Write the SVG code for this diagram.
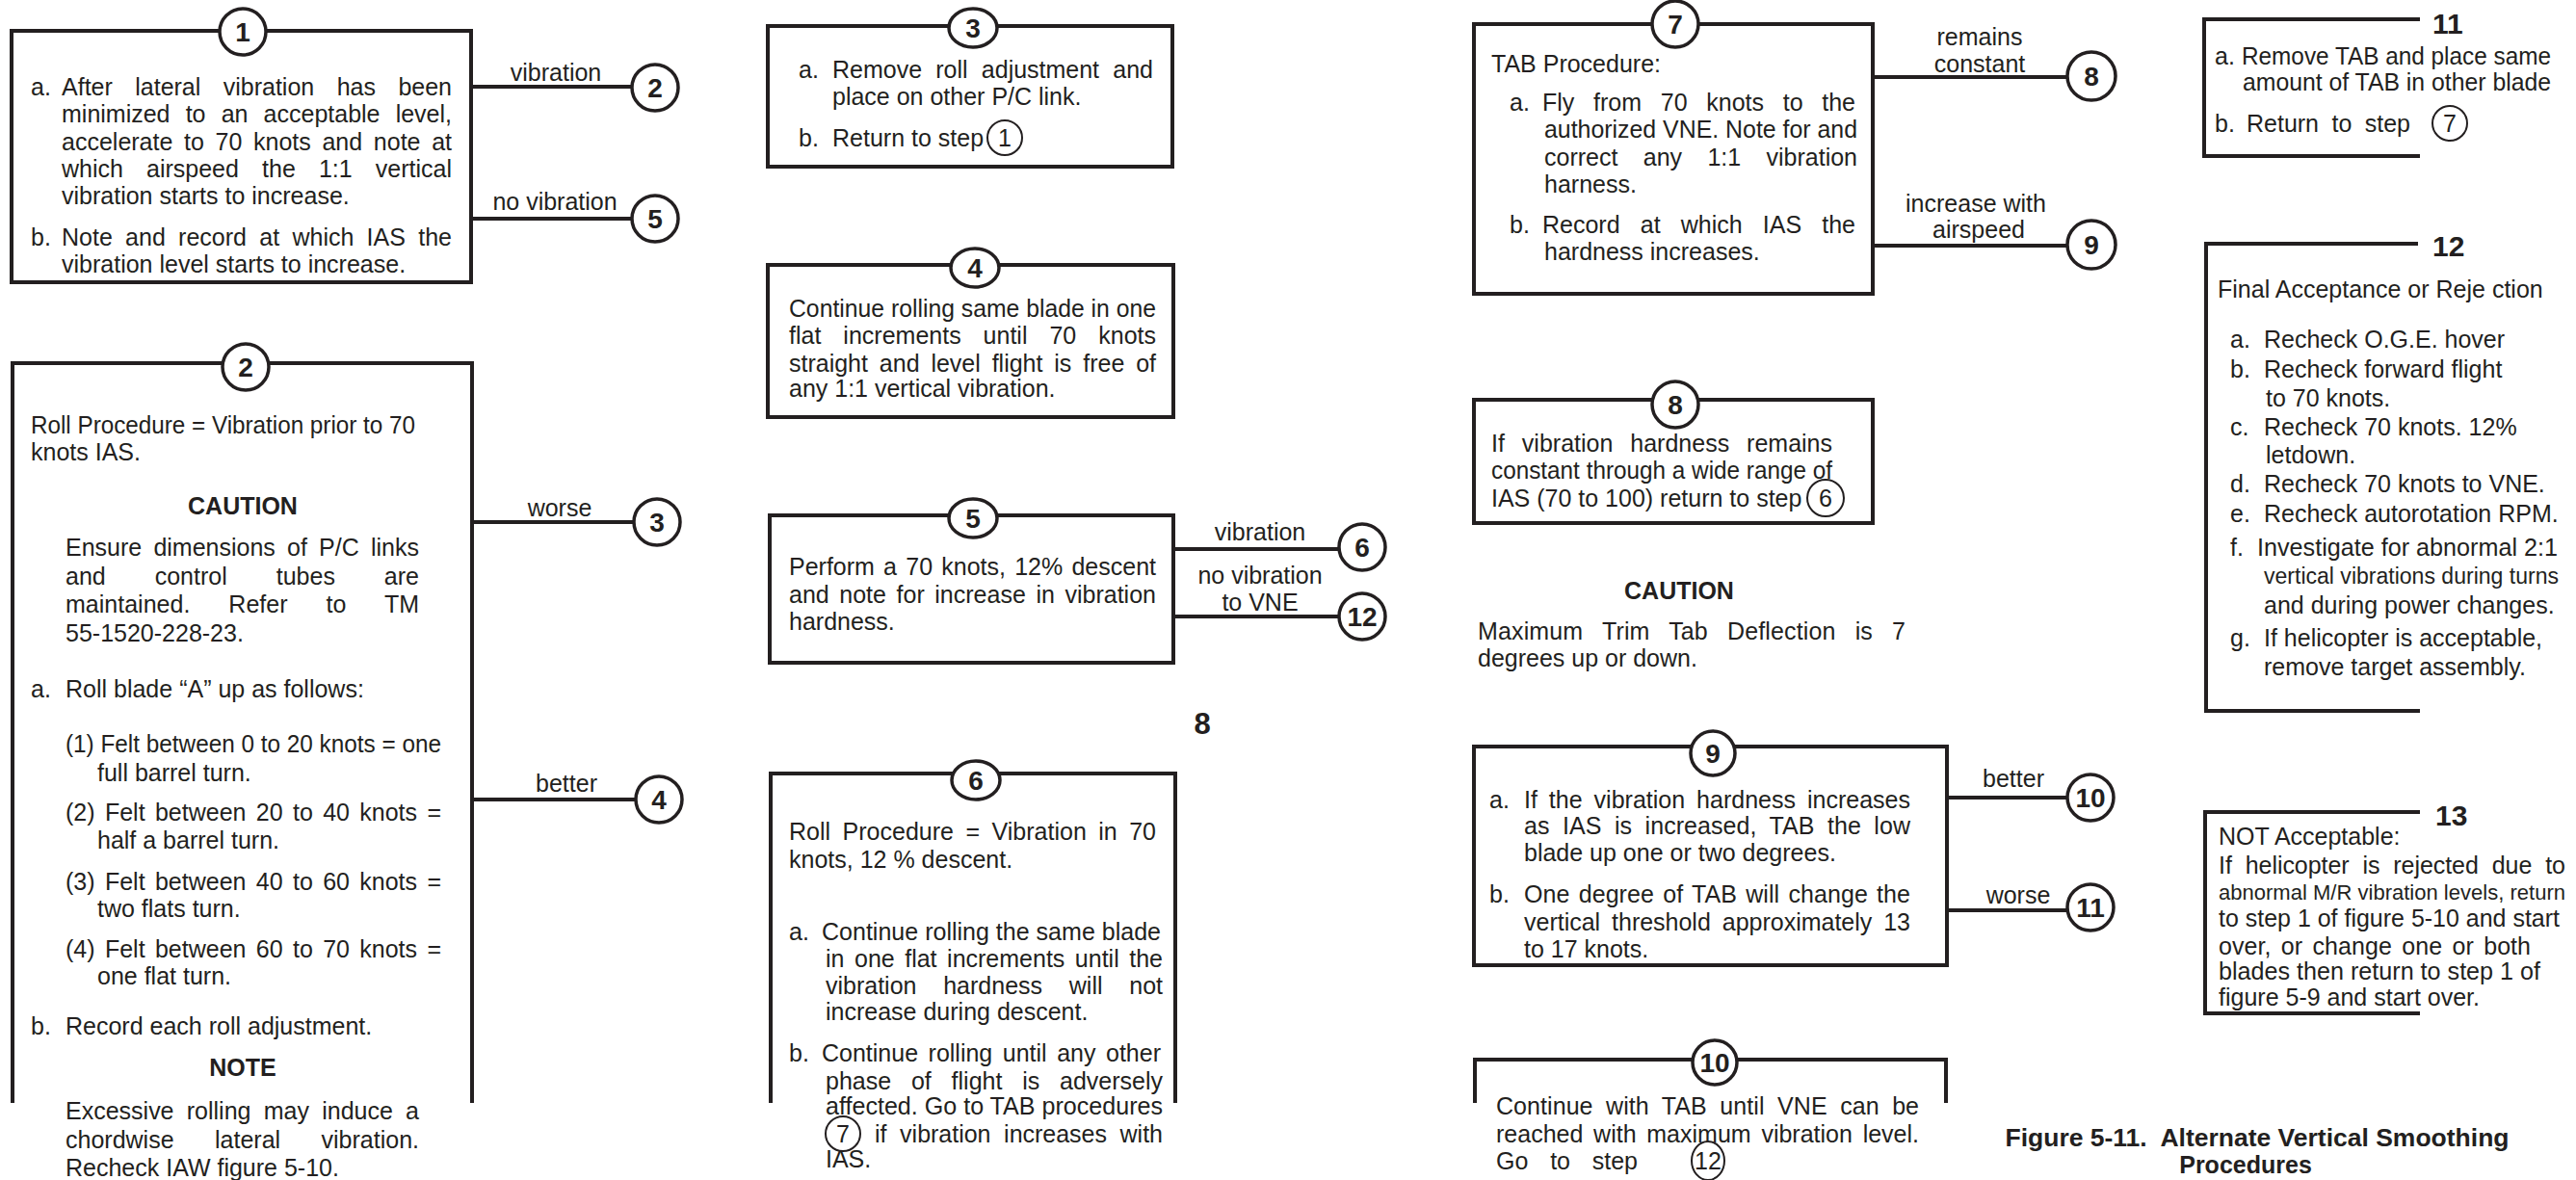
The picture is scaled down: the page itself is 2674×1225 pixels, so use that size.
<svg xmlns="http://www.w3.org/2000/svg" width="2674" height="1225" viewBox="0 0 2674 1225">
<style>
text{font-family:"Liberation Sans",Arial,Helvetica,sans-serif;font-size:25px;fill:#231f20}
.b{font-weight:bold}
.m{text-anchor:middle}
.num{font-weight:bold;font-size:28px;text-anchor:middle}
.big{font-weight:bold;font-size:30px}
.nar{font-size:22px}
.nar2{font-size:23px}
.box{fill:none;stroke:#231f20;stroke-width:4}
.node{fill:#fff;stroke:#231f20;stroke-width:3.5}
.ref{fill:none;stroke:#231f20;stroke-width:2}
.conn{fill:none;stroke:#231f20;stroke-width:4}
</style>
<rect width="2674" height="1225" fill="#fff"/>

<g id="connectors">
<path class="conn" d="M489 90H656M489 227H656M490 542H657M490 830H659M1218 570H1390M1218 640H1390M1944 80H2146M1944 255H2146M2021 828H2146M2021 945H2146"/>
<text class="m" x="577" y="84">vibration</text>
<text class="m" x="576" y="218">no vibration</text>
<text class="m" x="581" y="536">worse</text>
<text class="m" x="588" y="822">better</text>
<text class="m" x="1308" y="561">vibration</text>
<text class="m" x="1308" y="606">no vibration</text>
<text class="m" x="1308" y="634">to VNE</text>
<text class="m" x="2055" y="47">remains</text>
<text class="m" x="2055" y="75">constant</text>
<text class="m" x="2051" y="220">increase with</text>
<text class="m" x="2054" y="247">airspeed</text>
<text class="m" x="2090" y="817">better</text>
<text class="m" x="2095" y="938">worse</text>
<circle class="node" cx="680" cy="91" r="24"/><text class="num" x="680" y="101">2</text>
<circle class="node" cx="680" cy="227" r="24"/><text class="num" x="680" y="237">5</text>
<circle class="node" cx="682" cy="542" r="24"/><text class="num" x="682" y="552">3</text>
<circle class="node" cx="684" cy="830" r="24"/><text class="num" x="684" y="840">4</text>
<circle class="node" cx="1414" cy="568" r="24"/><text class="num" x="1414" y="578">6</text>
<circle class="node" cx="1414" cy="640" r="24"/><text class="num" x="1414" y="650">12</text>
<circle class="node" cx="2171" cy="79" r="25"/><text class="num" x="2171" y="89">8</text>
<circle class="node" cx="2171" cy="254" r="25"/><text class="num" x="2171" y="264">9</text>
<circle class="node" cx="2170" cy="828" r="24"/><text class="num" x="2170" y="838">10</text>
<circle class="node" cx="2170" cy="942" r="24"/><text class="num" x="2170" y="952">11</text>
</g>

<g id="node1">
<rect class="box" x="12" y="32" width="477" height="261"/>
<circle class="node" cx="252" cy="33" r="24"/><text class="num" x="252" y="43">1</text>
<text x="32" y="99">a.</text>
<text x="64" y="99" style="word-spacing:16.5px" textLength="405" lengthAdjust="spacing">After lateral vibration has been</text>
<text x="64" y="127" style="word-spacing:9.2px" textLength="405" lengthAdjust="spacing">minimized to an acceptable level,</text>
<text x="64" y="156" style="word-spacing:4.7px" textLength="405" lengthAdjust="spacing">accelerate to 70 knots and note at</text>
<text x="64" y="184" style="word-spacing:17.2px" textLength="405" lengthAdjust="spacing">which airspeed the 1:1 vertical</text>
<text x="64" y="212">vibration starts to increase.</text>
<text x="32" y="255">b.</text>
<text x="64" y="255" style="word-spacing:6.3px" textLength="405" lengthAdjust="spacing">Note and record at which IAS the</text>
<text x="64" y="283">vibration level starts to increase.</text>
</g>

<g id="node2">
<path class="box" d="M13 1145V377H490V1145"/>
<circle class="node" cx="255" cy="381" r="24"/><text class="num" x="255" y="391">2</text>
<text x="32" y="450" textLength="399" lengthAdjust="spacingAndGlyphs">Roll Procedure = Vibration prior to 70</text>
<text x="32" y="478">knots IAS.</text>
<text class="b m" x="252" y="534">CAUTION</text>
<text x="68" y="577" style="word-spacing:5.3px" textLength="367" lengthAdjust="spacing">Ensure dimensions of P/C links</text>
<text x="68" y="607" style="word-spacing:44px" textLength="367" lengthAdjust="spacing">and control tubes are</text>
<text x="68" y="636" style="word-spacing:33px" textLength="367" lengthAdjust="spacing">maintained. Refer to TM</text>
<text x="68" y="666">55-1520-228-23.</text>
<text x="32" y="724">a.</text>
<text x="68" y="724">Roll blade “A” up as follows:</text>
<text x="68" y="781" textLength="390" lengthAdjust="spacingAndGlyphs">(1) Felt between 0 to 20 knots = one</text>
<text x="101" y="811">full barrel turn.</text>
<text x="68" y="852" style="word-spacing:3.4px" textLength="390" lengthAdjust="spacing">(2) Felt between 20 to 40 knots =</text>
<text x="101" y="881">half a barrel turn.</text>
<text x="68" y="924" style="word-spacing:3.4px" textLength="390" lengthAdjust="spacing">(3) Felt between 40 to 60 knots =</text>
<text x="101" y="952">two flats turn.</text>
<text x="68" y="994" style="word-spacing:3.4px" textLength="390" lengthAdjust="spacing">(4) Felt between 60 to 70 knots =</text>
<text x="101" y="1022">one flat turn.</text>
<text x="32" y="1074">b.</text>
<text x="68" y="1074">Record each roll adjustment.</text>
<text class="b m" x="252" y="1117">NOTE</text>
<text x="68" y="1162" style="word-spacing:6.3px" textLength="367" lengthAdjust="spacing">Excessive rolling may induce a</text>
<text x="68" y="1192" style="word-spacing:35.5px" textLength="367" lengthAdjust="spacing">chordwise lateral vibration.</text>
<text x="68" y="1221">Recheck IAW figure 5-10.</text>
</g>

<g id="node3">
<rect class="box" x="797" y="27" width="420" height="146"/>
<ellipse class="node" cx="1010" cy="29" rx="25" ry="20"/><text class="num" x="1010" y="39">3</text>
<text x="829" y="81">a.</text>
<text x="864" y="81" style="word-spacing:7.3px" textLength="333" lengthAdjust="spacing">Remove roll adjustment and</text>
<text x="864" y="109">place on other P/C link.</text>
<text x="829" y="152">b.</text>
<text x="864" y="152">Return to step</text>
<circle class="ref" cx="1043" cy="143" r="18"/><text class="m" x="1043" y="152">1</text>
</g>

<g id="node4">
<rect class="box" x="797" y="275" width="421" height="158"/>
<ellipse class="node" cx="1012" cy="278" rx="25" ry="20"/><text class="num" x="1012" y="288">4</text>
<text x="819" y="329" textLength="381" lengthAdjust="spacingAndGlyphs">Continue rolling same blade in one</text>
<text x="819" y="357" style="word-spacing:16px" textLength="381" lengthAdjust="spacing">flat increments until 70 knots</text>
<text x="819" y="386" style="word-spacing:4.9px" textLength="381" lengthAdjust="spacing">straight and level flight is free of</text>
<text x="819" y="412">any 1:1 vertical vibration.</text>
</g>

<g id="node5">
<rect class="box" x="799" y="535" width="419" height="153"/>
<ellipse class="node" cx="1010" cy="538" rx="25" ry="20"/><text class="num" x="1010" y="548">5</text>
<text x="819" y="597" style="word-spacing:2.3px" textLength="381" lengthAdjust="spacing">Perform a 70 knots, 12% descent</text>
<text x="819" y="626" style="word-spacing:3.6px" textLength="381" lengthAdjust="spacing">and note for increase in vibration</text>
<text x="819" y="654">hardness.</text>
</g>

<text class="num" x="1248" y="762" style="font-size:31px">8</text>

<g id="node6">
<path class="box" d="M800 1145V803H1220V1145"/>
<ellipse class="node" cx="1013" cy="810" rx="25" ry="20"/><text class="num" x="1013" y="820">6</text>
<text x="819" y="872" style="word-spacing:5.5px" textLength="381" lengthAdjust="spacing">Roll Procedure = Vibration in 70</text>
<text x="819" y="901">knots, 12 % descent.</text>
<text x="819" y="976">a.</text>
<text x="853" y="976" textLength="352" lengthAdjust="spacingAndGlyphs">Continue rolling the same blade</text>
<text x="857" y="1004" style="word-spacing:3.6px" textLength="350" lengthAdjust="spacing">in one flat increments until the</text>
<text x="857" y="1032" style="word-spacing:20.8px" textLength="350" lengthAdjust="spacing">vibration hardness will not</text>
<text x="857" y="1059">increase during descent.</text>
<text x="819" y="1102">b.</text>
<text x="853" y="1102" style="word-spacing:3.6px" textLength="352" lengthAdjust="spacing">Continue rolling until any other</text>
<text x="857" y="1131" style="word-spacing:13.9px" textLength="350" lengthAdjust="spacing">phase of flight is adversely</text>
<text x="857" y="1157" textLength="350" lengthAdjust="spacingAndGlyphs">affected. Go to TAB procedures</text>
<circle class="ref" cx="875" cy="1177" r="18"/><text class="m" x="875" y="1186">7</text>
<text x="908" y="1186" style="word-spacing:6.7px" textLength="299" lengthAdjust="spacing">if vibration increases with</text>
<text x="857" y="1212">IAS.</text>
</g>

<g id="node7">
<rect class="box" x="1530" y="25" width="414" height="280"/>
<circle class="node" cx="1739" cy="25" r="24"/><text class="num" x="1739" y="35">7</text>
<text x="1548" y="75">TAB Procedure:</text>
<text x="1567" y="115">a.</text>
<text x="1601" y="115" style="word-spacing:12.8px" textLength="325" lengthAdjust="spacing">Fly from 70 knots to the</text>
<text x="1603" y="143" textLength="325" lengthAdjust="spacingAndGlyphs">authorized VNE. Note for and</text>
<text x="1603" y="172" style="word-spacing:19.4px" textLength="325" lengthAdjust="spacing">correct any 1:1 vibration</text>
<text x="1603" y="200">harness.</text>
<text x="1567" y="242">b.</text>
<text x="1601" y="242" style="word-spacing:14.2px" textLength="325" lengthAdjust="spacing">Record at which IAS the</text>
<text x="1603" y="270">hardness increases.</text>
</g>

<g id="node8">
<rect class="box" x="1530" y="415" width="414" height="128"/>
<circle class="node" cx="1739" cy="420" r="24"/><text class="num" x="1739" y="430">8</text>
<text x="1548" y="469" style="word-spacing:11px" textLength="354" lengthAdjust="spacing">If vibration hardness remains</text>
<text x="1548" y="497" textLength="354" lengthAdjust="spacingAndGlyphs">constant through a wide range of</text>
<text x="1548" y="526">IAS (70 to 100) return to step</text>
<circle class="ref" cx="1895" cy="517" r="19"/><text class="m" x="1895" y="526">6</text>
</g>

<g id="caution2">
<text class="b m" x="1743" y="622">CAUTION</text>
<text x="1534" y="664" style="word-spacing:13px" textLength="444" lengthAdjust="spacing">Maximum Trim Tab Deflection is 7</text>
<text x="1534" y="692">degrees up or down.</text>
</g>

<g id="node9">
<rect class="box" x="1530" y="775" width="491" height="227"/>
<circle class="node" cx="1778" cy="782" r="23"/><text class="num" x="1778" y="792">9</text>
<text x="1546" y="839">a.</text>
<text x="1582" y="839" style="word-spacing:5px" textLength="401" lengthAdjust="spacing">If the vibration hardness increases</text>
<text x="1582" y="866" style="word-spacing:6.4px" textLength="401" lengthAdjust="spacing">as IAS is increased, TAB the low</text>
<text x="1582" y="894">blade up one or two degrees.</text>
<text x="1546" y="937">b.</text>
<text x="1582" y="937" style="word-spacing:2.2px" textLength="401" lengthAdjust="spacing">One degree of TAB will change the</text>
<text x="1582" y="966" style="word-spacing:5px" textLength="401" lengthAdjust="spacing">vertical threshold approximately 13</text>
<text x="1582" y="994">to 17 knots.</text>
</g>

<g id="node10">
<path class="box" d="M1531 1145V1100H2020V1145"/>
<circle class="node" cx="1780" cy="1103" r="23"/><text class="num" x="1780" y="1113">10</text>
<text x="1553" y="1157" style="word-spacing:6.5px" textLength="439" lengthAdjust="spacing">Continue with TAB until VNE can be</text>
<text x="1553" y="1186" style="word-spacing:3.8px" textLength="439" lengthAdjust="spacing">reached with maximum vibration level.</text>
<text x="1553" y="1214" style="word-spacing:16px" textLength="147" lengthAdjust="spacing">Go to step</text>
<ellipse class="ref" cx="1773" cy="1205" rx="17" ry="20"/><text class="m" x="1773" y="1214">12</text>
</g>

<g id="node11">
<path class="box" d="M2512 20H2288V162H2512"/>
<text class="big" x="2525" y="35">11</text>
<text x="2299" y="67">a.</text>
<text x="2327" y="67" textLength="321" lengthAdjust="spacingAndGlyphs">Remove TAB and place same</text>
<text x="2328" y="94" textLength="320" lengthAdjust="spacingAndGlyphs">amount of TAB in other blade</text>
<text x="2299" y="137">b.</text>
<text x="2332" y="137" style="word-spacing:6.5px" textLength="170" lengthAdjust="spacing">Return to step</text>
<circle class="ref" cx="2543" cy="128" r="18"/><text class="m" x="2543" y="137">7</text>
</g>

<g id="node12">
<path class="box" d="M2510 253H2290V738H2512"/>
<text class="big" x="2525" y="266">12</text>
<text x="2302" y="309" style="white-space:pre">Final Acceptance or Reje ction</text>
<text x="2315" y="361">a.</text><text x="2350" y="361">Recheck O.G.E. hover</text>
<text x="2315" y="392">b.</text><text x="2350" y="392">Recheck forward flight</text>
<text x="2352" y="422">to 70 knots.</text>
<text x="2315" y="452">c.</text><text x="2350" y="452">Recheck 70 knots. 12%</text>
<text x="2352" y="481">letdown.</text>
<text x="2315" y="511">d.</text><text x="2350" y="511">Recheck 70 knots to VNE.</text>
<text x="2315" y="542">e.</text><text x="2350" y="542">Recheck autorotation RPM.</text>
<text x="2315" y="577">f.</text><text x="2343" y="577" textLength="312" lengthAdjust="spacingAndGlyphs">Investigate for abnormal 2:1</text>
<text class="nar2" x="2350" y="606" textLength="306" lengthAdjust="spacingAndGlyphs">vertical vibrations during turns</text>
<text x="2350" y="637">and during power changes.</text>
<text x="2315" y="671">g.</text><text x="2350" y="671">If helicopter is acceptable,</text>
<text x="2350" y="701">remove target assembly.</text>
</g>

<g id="node13">
<path class="box" d="M2512 843H2289V1052H2512"/>
<text class="big" x="2528" y="857">13</text>
<text x="2303" y="877">NOT Acceptable:</text>
<text x="2303" y="907" style="word-spacing:7.1px" textLength="360" lengthAdjust="spacing">If helicopter is rejected due to</text>
<text class="nar" x="2303" y="934" textLength="360" lengthAdjust="spacingAndGlyphs">abnormal M/R vibration levels, return</text>
<text x="2303" y="962" textLength="354" lengthAdjust="spacingAndGlyphs">to step 1 of figure 5-10 and start</text>
<text x="2303" y="991" style="word-spacing:3.4px" textLength="324" lengthAdjust="spacing">over, or change one or both</text>
<text x="2303" y="1017" textLength="334" lengthAdjust="spacingAndGlyphs">blades then return to step 1 of</text>
<text x="2303" y="1044">figure 5-9 and start over.</text>
</g>

<g id="caption">
<text class="b m" x="2343" y="1190" style="white-space:pre" textLength="523" lengthAdjust="spacingAndGlyphs">Figure 5-11.  Alternate Vertical Smoothing</text>
<text class="b m" x="2331" y="1218">Procedures</text>
</g>
</svg>
